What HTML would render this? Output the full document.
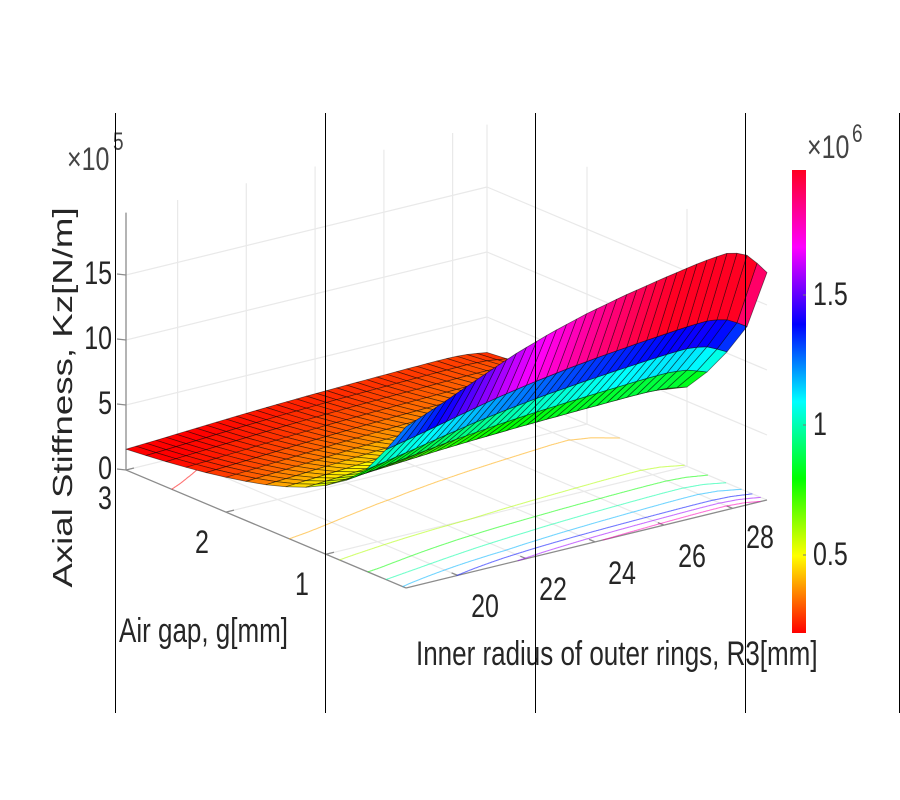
<!DOCTYPE html>
<html><head><meta charset="utf-8">
<style>
html,body{margin:0;padding:0;background:#fff;}
svg{display:block;}
text{font-family:"Liberation Sans",Arial,sans-serif;fill:#262626;}
</style></head><body>
<svg id="s" width="900" height="800" viewBox="0 0 900 800" xmlns="http://www.w3.org/2000/svg">
<defs>
<linearGradient id="cbg" x1="0" y1="1" x2="0" y2="0">
<stop offset="0" stop-color="#ff0000"/>
<stop offset="0.1667" stop-color="#ffff00"/>
<stop offset="0.3333" stop-color="#00ff00"/>
<stop offset="0.5" stop-color="#00ffff"/>
<stop offset="0.6667" stop-color="#0000ff"/>
<stop offset="0.8333" stop-color="#ff00ff"/>
<stop offset="1" stop-color="#ff0020"/>
</linearGradient>
</defs>
<rect width="900" height="800" fill="#fff"/>
<g id="grid" stroke="#e9e9e9" stroke-width="1.2" fill="none"></g>
<g id="axes" stroke="#8c8c8c" stroke-width="1.3" fill="none"></g>
<g id="cont" fill="none" stroke-width="1.1" opacity="0.55"></g>
<g id="surf" stroke="#000" stroke-opacity="0.55" stroke-width="0.75" stroke-linejoin="round"></g>

<!-- z tick labels -->
<g font-size="25" text-anchor="end">
<text transform="translate(112,469) scale(1,1.3)" dominant-baseline="central">0</text>
<text transform="translate(112,404) scale(1,1.3)" dominant-baseline="central">5</text>
<text transform="translate(112,339) scale(1,1.3)" dominant-baseline="central">10</text>
<text transform="translate(112,274) scale(1,1.3)" dominant-baseline="central">15</text>
</g>
<!-- g tick labels -->
<g font-size="25" text-anchor="middle">
<text transform="translate(105,499) scale(1,1.3)" dominant-baseline="central">3</text>
<text transform="translate(202,543) scale(1,1.3)" dominant-baseline="central">2</text>
<text transform="translate(302,585) scale(1,1.3)" dominant-baseline="central">1</text>
<!-- R3 tick labels -->
<text transform="translate(485,607) scale(1,1.3)" dominant-baseline="central">20</text>
<text transform="translate(553,590) scale(1,1.3)" dominant-baseline="central">22</text>
<text transform="translate(622,574) scale(1,1.3)" dominant-baseline="central">24</text>
<text transform="translate(692,557) scale(1,1.3)" dominant-baseline="central">26</text>
<text transform="translate(760,538) scale(1,1.3)" dominant-baseline="central">28</text>
</g>
<!-- axis labels -->
<text transform="translate(119,642) scale(1,1.3)" font-size="26">Air gap, g[mm]</text>
<text transform="translate(416,665) scale(1,1.3)" font-size="26">Inner radius of outer rings, R3[mm]</text>
<text transform="translate(72,397.5) rotate(-90) scale(1.31,1)" font-size="28" text-anchor="middle">Axial Stiffness, Kz[N/m]</text>
<!-- exponent labels -->
<text transform="translate(67,170) scale(1,1.3)" font-size="25" style="fill:#444">×10</text>
<text transform="translate(113,150) scale(1,1.3)" font-size="19" style="fill:#444">5</text>
<text transform="translate(807,158) scale(1,1.3)" font-size="25" style="fill:#444">×10</text>
<text transform="translate(852,142) scale(1,1.3)" font-size="19" style="fill:#444">6</text>

<!-- colorbar -->
<rect x="792" y="170" width="14" height="463" fill="url(#cbg)"/>
<g stroke="#777" stroke-width="1">
<line x1="803" y1="295" x2="806" y2="295"/>
<line x1="803" y1="425" x2="806" y2="425"/>
<line x1="803" y1="555" x2="806" y2="555"/>
</g>
<g font-size="25">
<text transform="translate(813,295) scale(1,1.3)" dominant-baseline="central">1.5</text>
<text transform="translate(813,425) scale(1,1.3)" dominant-baseline="central">1</text>
<text transform="translate(813,555) scale(1,1.3)" dominant-baseline="central">0.5</text>
</g>

<!-- vertical black lines -->
<g stroke="#000" stroke-width="1">
<line x1="115.5" y1="113" x2="115.5" y2="713"/>
<line x1="325.5" y1="113" x2="325.5" y2="713"/>
<line x1="535.5" y1="113" x2="535.5" y2="713"/>
<line x1="745.5" y1="113" x2="745.5" y2="713"/>
<line x1="899.5" y1="113" x2="899.5" y2="713"/>
</g>
</svg>
<script>
(function(){
var NS='http://www.w3.org/2000/svg';
function el(tag,attrs,parent){var e=document.createElementNS(NS,tag);for(var k in attrs)e.setAttribute(k,attrs[k]);parent.appendChild(e);return e;}
var ZS=13, ZMAX=19.8, R0=18.5, RR=10.5;
function P(u,v,z){return [126+361*u+280*v, 470-88*u+118*v-ZS*z];}
var Pmin=[12.4,10.0,7.8,6.34,5.3,4.51,3.90,3.41,3.01,2.68,2.39,2.15,1.94,1.76,1.60];
var Pmax=[17.5,12.7,10.1,7.9,6.1,5.28,4.65,4.15,3.73,3.39,3.09,2.84,2.62,2.43,2.27];
var WU=[0,.1,.2,.3,.4,.5,.6,.7,.8,.85,.9,.95,1];
var WV=[0,.22,.46,.69,.88,1.04,1.17,1.28,1.38,1.42,1.44,1.32,1.0];
function interp(xs,ys,x){for(var k=0;k<xs.length-1;k++){if(x<=xs[k+1]){var t=(x-xs[k])/(xs[k+1]-xs[k]);return ys[k]+t*(ys[k+1]-ys[k]);}}return ys[ys.length-1];}
function F(g,u){
  var gi=(g-0.2)/0.2; var i=Math.min(13,Math.max(0,Math.floor(gi))); var t=gi-i;
  var a=Pmin[i]+(Pmin[i+1]-Pmin[i])*t, b=Pmax[i]+(Pmax[i+1]-Pmax[i])*t;
  return a+(b-a)*interp(WU,WV,u);
}
function colR(val,top){var t=(val-2.0)/(top-2.0);t=Math.max(0,Math.min(1,t));return 'hsl('+(t*352).toFixed(1)+',100%,50%)';}
function col(val){return colR(val,19.8);}
function f1(p){return p[0].toFixed(1)+','+p[1].toFixed(1);}
function line(par,a,b){el('line',{x1:a[0].toFixed(1),y1:a[1].toFixed(1),x2:b[0].toFixed(1),y2:b[1].toFixed(1)},par);}

// grid
var grid=document.getElementById('grid');
[20,22,24,26,28].forEach(function(r){var u=(r-R0)/RR;line(grid,P(u,0,0),P(u,1,0));line(grid,P(u,0,0),P(u,0,ZMAX));});
[1,2].forEach(function(g){var v=(3-g)/2.8;line(grid,P(0,v,0),P(1,v,0));line(grid,P(1,v,0),P(1,v,ZMAX));});
line(grid,P(0,0,0),P(1,0,0));line(grid,P(1,0,0),P(1,0,ZMAX));line(grid,P(1,0,0),P(1,1,0));
[5,10,15].forEach(function(z){line(grid,P(0,0,z),P(1,0,z));line(grid,P(1,0,z),P(1,1,z));});

// axes
var ax=document.getElementById('axes');
line(ax,P(0,0,0),P(0,0,ZMAX));line(ax,P(0,0,0),P(0,1,0));line(ax,P(0,1,0),P(1,1,0));
[0,5,10,15].forEach(function(z){var a=P(0,0,z);line(ax,a,[a[0]-9,a[1]-1]);});
[1,2,3].forEach(function(g){var a=P(0,(3-g)/2.8,0);line(ax,a,[a[0]+8,a[1]-2]);});
[20,22,24,26,28].forEach(function(r){var a=P((r-R0)/RR,1,0);line(ax,a,[a[0]-6,a[1]-2.5]);});

// contours on floor
var cont=document.getElementById('cont');
for(var L=2;L<=18;L+=2){
  var pts=[],segs=[];
  for(var k=0;k<=400;k++){
    var u=k/400,hi=F(0.2,u),lo=F(3,u);
    if(L<=hi&&L>=lo){
      var a=0.2,b=3;
      for(var it=0;it<30;it++){var m=(a+b)/2;if(F(m,u)>L)a=m;else b=m;}
      var g=(a+b)/2;pts.push(f1(P(u,(3-g)/2.8,0)));
    } else {if(pts.length>1)segs.push(pts);pts=[];}
  }
  if(pts.length>1)segs.push(pts);
  for(var s=0;s<segs.length;s++)el('polyline',{points:segs[s].join(' '),stroke:col(L)},cont);
}

// surface
var surf=document.getElementById('surf');
var NI=15,NJ=37,PT=[],ZV=[];
for(var i=0;i<NI;i++){PT.push([]);ZV.push([]);var gg=0.2+0.2*i;
  for(var j=0;j<NJ;j++){var uu=j/36;var z=F(gg,uu);ZV[i].push(z);PT[i].push(P(uu,(3-gg)/2.8,z));}}
var faces=[];
for(var i=0;i<NI-1;i++){for(var j=0;j<NJ-1;j++){
  var uc=(j+0.5)/36, vc=(3-(0.3+0.2*i))/2.8, zc=(ZV[i][j]+ZV[i][j+1]+ZV[i+1][j]+ZV[i+1][j+1])/4;
  var d=-uc+1.3414*vc+0.3351*zc/19.8;
  faces.push({d:d,p:[PT[i][j],PT[i][j+1],PT[i+1][j+1],PT[i+1][j]],c:colR(ZV[i][j],19.2)});
}}
faces.sort(function(a,b){return a.d-b.d;});
faces.forEach(function(fc){el('polygon',{points:fc.p.map(f1).join(' '),fill:fc.c},surf);});
})();
</script>
</body></html>
